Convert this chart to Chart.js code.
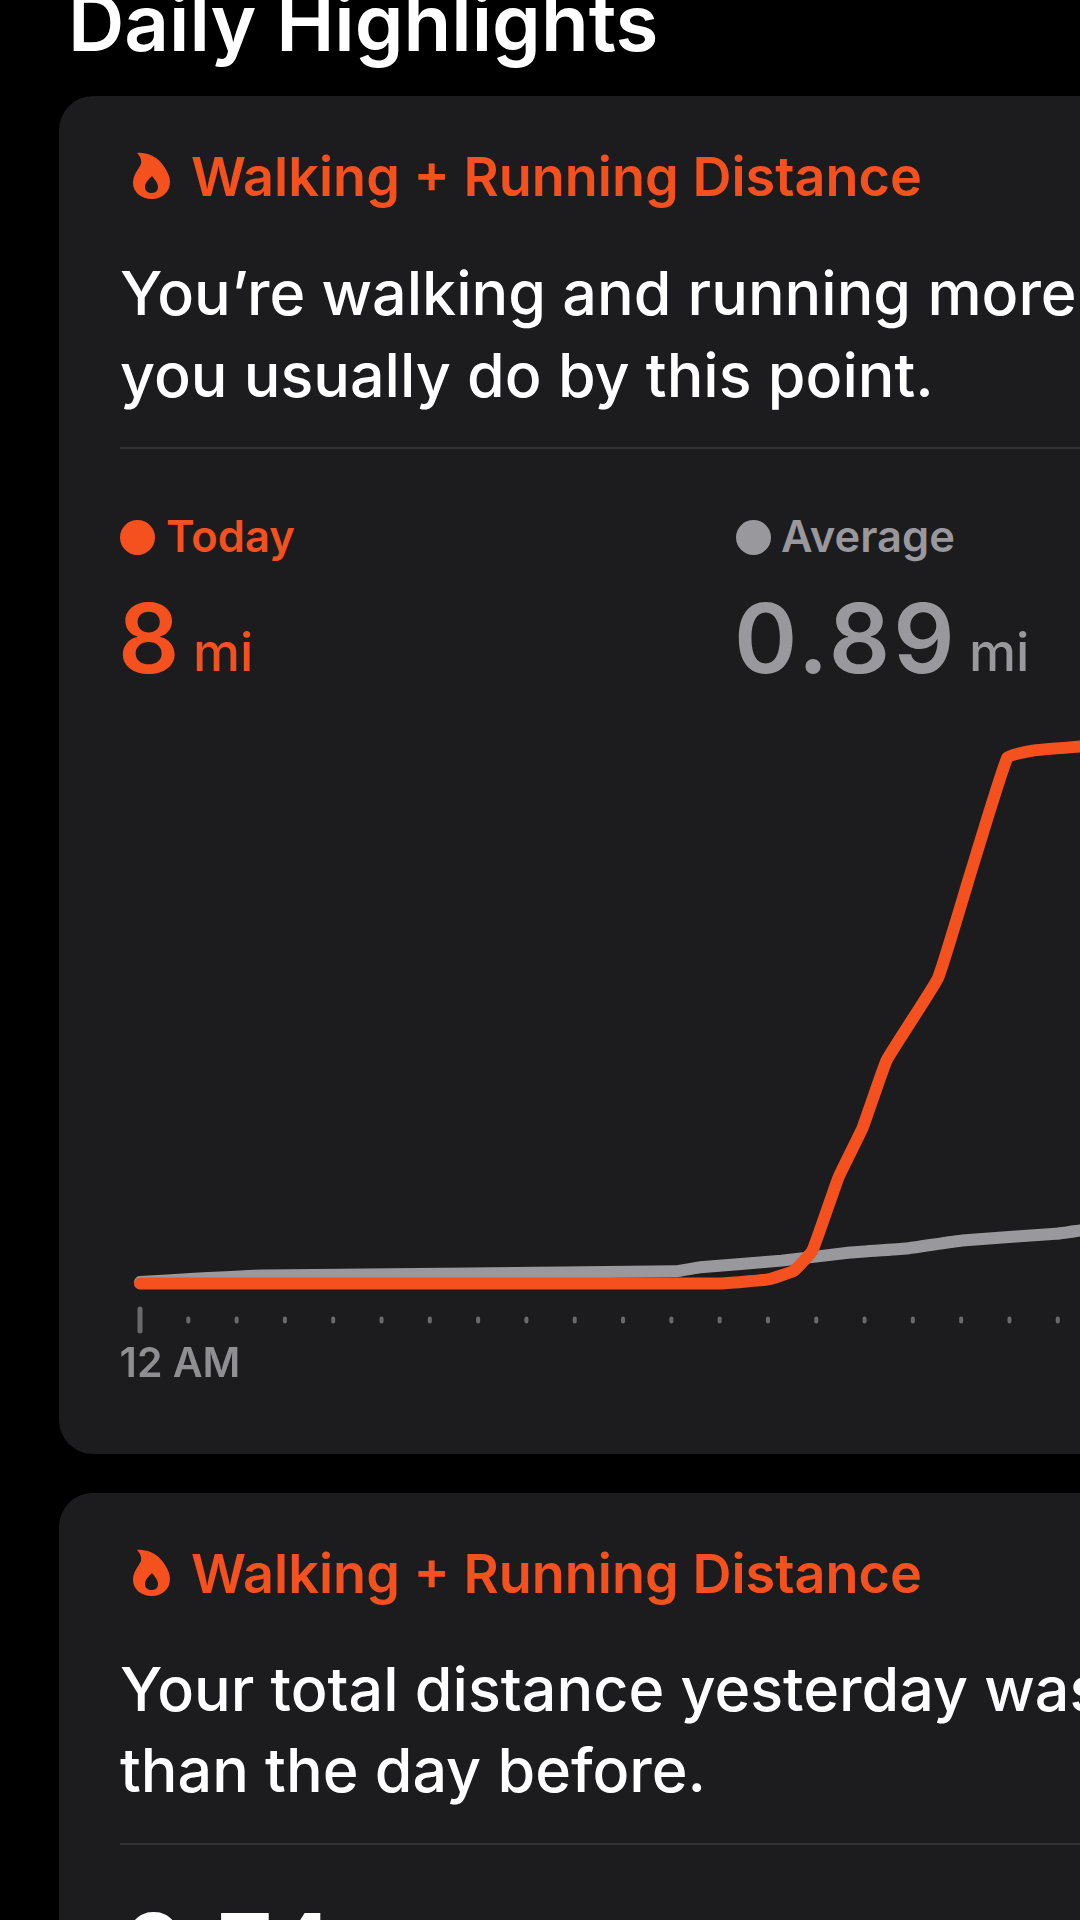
<!DOCTYPE html>
<html>

<head>
    <meta charset="utf-8">
    <title>Daily Highlights</title>
    <style>
        html, body {
            margin: 0;
            padding: 0;
            background: #000;
            width: 1080px;
            height: 1920px;
            overflow: hidden;
            font-family: Inter, "Noto Sans", sans-serif;
        }

        .abs {
            position: absolute;
            white-space: nowrap;
            line-height: 1;
        }

        .card {
            position: absolute;
            left: 59px;
            width: 1100px;
            background: #1c1c1e;
            border-radius: 34px;
        }

        .heading { left: 191px; font-size: 54px; font-weight: 600; color: #f4511e; }
        .body { left: 120px; font-size: 61px; font-weight: 500; color: #fff; }
        .rule { position: absolute; left: 120px; width: 960px; height: 2px; background: #323234; }
        .legend { font-size: 43.5px; font-weight: 600; }
        .dot { position: absolute; width: 35px; height: 35px; border-radius: 50%; }
        .flame { position: absolute; left: 132px; width: 39px; height: 47px; }
        .orange { color: #f4511e; }
        .grey { color: #98989d; }
        .big { font-size: 96px; font-weight: 600; letter-spacing: 3px; }
        .unit { font-size: 53px; font-weight: 500; }

        #chart {
            position: absolute;
            left: 0;
            top: 700px;
        }
    </style>
</head>

<body>
    <div class="abs" style="left:68px;top:-16px;font-size:78px;font-weight:600;color:#fff">Daily Highlights</div>

    <div class="card" style="top:96px;height:1358px"></div>
    <div class="card" style="top:1493px;height:500px"></div>

    <svg class="flame" style="top:152px" viewBox="0 0 39 47"><path fill="#f4511e" fill-rule="evenodd" d="M5 1C12 0 24 3 31 13C35 19 38 24 38 30C38 40 30 47 20 47C9 47 1 40 1 31C1 23 6 18 9 12C10 8 8 4 5 1ZM20 24C16 28 13 31 13 35C13 39 16 41 20 41C24 41 26 38 26 35C26 31 23 28 20 24Z"/></svg>
    <div class="abs heading" style="top:150px">Walking + Running Distance</div>
    <div class="abs body" style="top:263px">You’re walking and running more</div>
    <div class="abs body" style="top:345px">you usually do by this point.</div>
    <div class="rule" style="top:447px"></div>

    <div class="dot" style="left:120px;top:520px;background:#f4511e"></div>
    <div class="abs legend orange" style="left:166px;top:515px">Today</div>
    <div class="dot" style="left:736px;top:520px;background:#98989d"></div>
    <div class="abs legend grey" style="left:781px;top:515px">Average</div>

    <div class="abs big orange" style="left:118px;top:590px">8</div>
    <div class="abs unit orange" style="left:193px;top:626px">mi</div>
    <div class="abs big grey" style="left:734px;top:590px">0.89</div>
    <div class="abs unit grey" style="left:969px;top:626px">mi</div>

    <svg class="flame" style="top:1549px" viewBox="0 0 39 47"><path fill="#f4511e" fill-rule="evenodd" d="M5 1C12 0 24 3 31 13C35 19 38 24 38 30C38 40 30 47 20 47C9 47 1 40 1 31C1 23 6 18 9 12C10 8 8 4 5 1ZM20 24C16 28 13 31 13 35C13 39 16 41 20 41C24 41 26 38 26 35C26 31 23 28 20 24Z"/></svg>
    <div class="abs heading" style="top:1547px">Walking + Running Distance</div>
    <div class="abs body" style="top:1659px">Your total distance yesterday was</div>
    <div class="abs body" style="top:1740px">than the day before.</div>
    <div class="rule" style="top:1843px"></div>
    <div class="abs big" style="left:122px;top:1900px;color:#fff">0.74</div>

    <canvas id="chart" width="1080" height="717"></canvas>

    <script src="https://cdn.jsdelivr.net/npm/chart.js"></script>
    <script>
        // hours after midnight
        const todayHours = [0, 0.42, 6.0, 6.5, 6.77, 6.96, 7.23, 7.48, 7.73, 8.26, 8.59, 8.98, 9.24, 9.73];
        const todayMiles = [0, 0, 0, 0.06, 0.19, 0.49, 1.58, 2.32, 3.33, 4.55, 6.08, 7.84, 7.94, 8.0];
        const averageHours = [0, 0.56, 1.26, 5.54, 5.8, 6.64, 7.35, 7.93, 8.51, 9.48, 9.73];
        const averageMiles = [0.02, 0.07, 0.12, 0.18, 0.24, 0.34, 0.46, 0.52, 0.64, 0.74, 0.79];
        const tickLabels = ['12 AM'];

        function toPoints(xs, ys) {
            return xs.map((x, i) => ({ x: x, y: ys[i] }));
        }

        // the long first tick and the small dots after it
        const axisMarks = {
            id: 'axisMarks',
            afterDraw(chart) {
                const scale = chart.scales.x;
                const ctx = chart.ctx;
                const mid = chart.chartArea.bottom + 3;
                ctx.save();
                ctx.lineCap = 'round';
                ctx.strokeStyle = '#6a6a6e';
                scale.ticks.forEach((tick, i) => {
                    const x = scale.getPixelForValue(tick.value);
                    const half = i === 0 ? 11 : 1.5;
                    ctx.beginPath();
                    ctx.lineWidth = i === 0 ? 5 : 4;
                    ctx.moveTo(x, mid - half);
                    ctx.lineTo(x, mid + half);
                    ctx.stroke();
                });
                ctx.restore();
            }
        };

        new Chart(document.getElementById('chart'), {
            type: 'line',
            data: {
                datasets: [{
                    label: 'Today',
                    data: toPoints(todayHours, todayMiles),
                    borderColor: '#f4511e',
                    borderWidth: 12,
                    tension: 0.1,
                    pointRadius: 0,
                    borderCapStyle: 'round',
                    borderJoinStyle: 'round',
                    clip: false
                },
                {
                    label: 'Average',
                    data: toPoints(averageHours, averageMiles),
                    borderColor: '#98989d',
                    borderWidth: 12,
                    tension: 0.1,
                    pointRadius: 0,
                    borderCapStyle: 'round',
                    borderJoinStyle: 'round',
                    clip: false
                }]
            },
            options: {
                responsive: false,
                animation: false,
                layout: { padding: { left: 140, top: 13 } },
                plugins: { legend: { display: false }, tooltip: { enabled: false } },
                scales: {
                    x: {
                        type: 'linear',
                        min: 0,
                        max: 9.73,
                        border: { display: false },
                        grid: { display: false },
                        afterFit: scale => { scale.height = 100; },
                        ticks: {
                            stepSize: 0.5,
                            autoSkip: false,
                            includeBounds: false,
                            maxRotation: 0,
                            padding: 15,
                            labelOffset: 40,
                            color: '#8e8e93',
                            font: { family: 'Inter', size: 41, weight: '600' },
                            callback: (value, i) => tickLabels[i] || ''
                        }
                    },
                    y: {
                        display: false,
                        min: -0.5,
                        max: 8.5
                    }
                }
            },
            plugins: [axisMarks]
        });
    </script>
</body>

</html>
